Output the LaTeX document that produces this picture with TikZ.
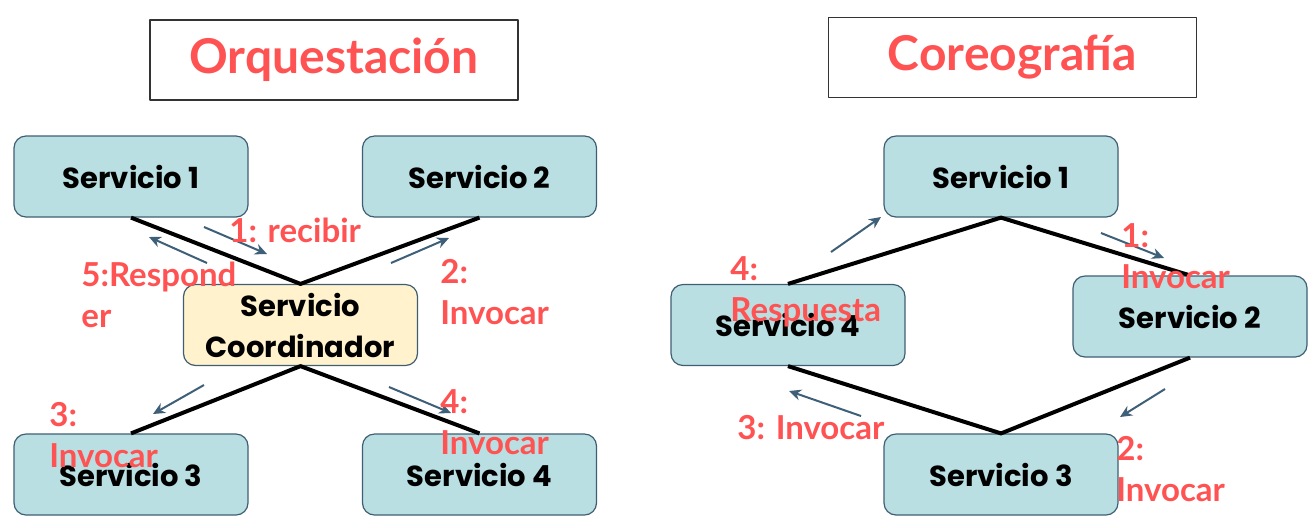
\documentclass[tikz,border=0pt]{standalone}
\usepackage{fontspec}
\setmainfont{Lato}
\newfontfamily\boxfont{Poppins}
\usetikzlibrary{arrows.meta}
\definecolor{svcfill}{HTML}{B9DFE3}
\definecolor{svcedge}{HTML}{3F5E73}
\definecolor{coordfill}{HTML}{FFF2CC}
\definecolor{lblcol}{HTML}{FF5252}
\definecolor{msgcol}{HTML}{3E5F78}
\definecolor{ink}{HTML}{333333}

\begin{document}
\begin{tikzpicture}[
  x=0.5pt, y=-0.5pt, >=Stealth, line join=round,
  svc/.style={draw=svcedge, fill=svcfill, rounded corners=6pt, line width=0.6pt,
              minimum width=117pt, minimum height=40.5pt, inner sep=1pt,
              font=\boxfont\bfseries\fontsize{14.5}{20.5}\selectfont, align=center},
  coordbox/.style={svc, fill=coordfill},
  titlebox/.style={draw=ink, line width=0.8pt, minimum width=184pt, minimum height=40pt,
                   text=lblcol, font=\bfseries\fontsize{24}{28}\selectfont},
  lbl/.style={lblcol, anchor=north west, inner sep=0pt, align=left,
              font=\bfseries\fontsize{16.5}{20.5}\selectfont},
  link/.style={black, line width=2pt},
  msg/.style={-{Stealth[length=6pt,width=5.5pt]}, msgcol, line width=1pt}]

\useasboundingbox (0,0) rectangle (1316,527);

% ================================================================ orquestacion
\node[titlebox] (torq) at (334,60) {Orquestación};

\node[svc] (o1) at (131,176.5) {Servicio 1};
\node[svc] (o2) at (479.5,176.5) {Servicio 2};
\node[coordbox] (oc) at (300.5,325) {Servicio\\Coordinador};
\node[svc] (o3) at (131,474.5) {Servicio 3};
\node[svc] (o4) at (479.5,474.5) {Servicio 4};

\draw[link] (o1.south) -- (oc.north) -- (o2.south);
\draw[link] (o3.north) -- (oc.south) -- (o4.north);

% messages
\coordinate (orecA) at (204,227);  \coordinate (orecB) at (267,254);
\coordinate (oresA) at (207,263);  \coordinate (oresB) at (149,237);
\coordinate (oinvA) at (391,263);  \coordinate (oinvB) at (449,238);
\coordinate (othrA) at (204,385);  \coordinate (othrB) at (153,414);
\coordinate (ofouA) at (389,387);  \coordinate (ofouB) at (451,413);
\draw[msg] (orecA) -- (orecB);
\draw[msg] (oresA) -- (oresB);
\draw[msg] (oinvA) -- (oinvB);
\draw[msg] (othrA) -- (othrB);
\draw[msg] (ofouA) -- (ofouB);

\node[lbl] (lrec) at (229,218) {1: recibir};
\node[lbl] (lres) at (81,262) {5:Respond\\er};
\node[lbl] (linv) at (440,259) {2:\\Invocar};
\node[lbl] (lthr) at (49,402) {3:\\Invocar};
\node[lbl] (lfou) at (440,389) {4:\\Invocar};

% ================================================================ coreografia
\node[titlebox] (tcor) at (1012.5,57.5) {Coreografía};

\node[svc] (c1) at (1001,176.5) {Servicio 1};
\node[svc] (c2) at (1190,316.5) {Servicio 2};
\node[svc] (c3) at (1001,474.5) {Servicio 3};
\node[svc] (c4) at (788,325) {Servicio 4};

\draw[link] (c4.north) -- (c1.south) -- (c2.north);
\draw[link] (c2.south) -- (c3.north) -- (c4.south);

% messages
\coordinate (cresA) at (831,252);  \coordinate (cresB) at (881,217);
\coordinate (coneA) at (1101,233); \coordinate (coneB) at (1164,258);
\coordinate (ctwoA) at (1165,389); \coordinate (ctwoB) at (1120,417);
\coordinate (cthrA) at (861,416);  \coordinate (cthrB) at (789,391);
\draw[msg] (cresA) -- (cresB);
\draw[msg] (coneA) -- (coneB);
\draw[msg] (ctwoA) -- (ctwoB);
\draw[msg] (cthrA) -- (cthrB);

\node[lbl] (lcres) at (730,256) {4:\\Respuesta};
\node[lbl] (lcone) at (1121,223) {1:\\Invocar};
\node[lbl] (lcthr) at (737,415) {3: Invocar};
\node[lbl] (lctwo) at (1116,436) {2:\\Invocar};

\end{tikzpicture}
\end{document}
